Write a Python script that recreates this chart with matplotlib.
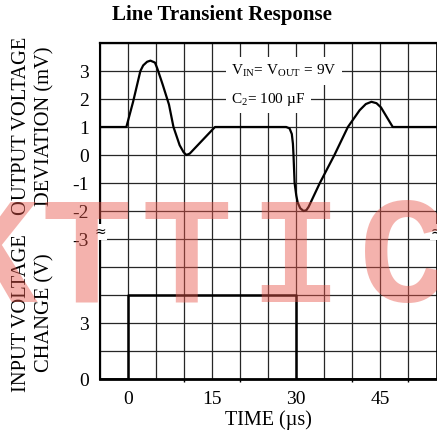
import matplotlib
matplotlib.use("Agg")
import matplotlib.pyplot as plt

### DATOS
### ------------------

# salida (mV) vs tiempo (us)
out_t = [-5, -0.3, 0.9, 2.2, 2.7, 3.4, 4.0, 4.8, 5.2, 6.2, 7.3, 8.1, 9.2, 9.9,
         10.4, 11.0, 15.5, 28.2, 28.8, 29.2, 29.4, 29.5, 29.7, 30.0, 30.25,
         30.7, 31.3, 31.8, 32.2, 34.2, 36.8, 39.2, 41.3, 42.4, 43.4, 44.3,
         45.1, 47.2, 55]
out_mv = [1, 1, 1.9, 3.0, 3.2, 3.33, 3.37, 3.3, 3.1, 2.5, 1.8, 1.0, 0.35, 0.1,
          0.0, 0.05, 1.0, 1.0, 0.95, 0.75, 0.4, 0.0, -1.0, -1.45, -1.7,
          -1.9, -2.0, -1.97, -1.85, -1.0, 0.0, 1.0, 1.6, 1.82, 1.9, 1.85,
          1.7, 1.0, 1.0]

# escalon de entrada (V)
in_t = [-5, 0, 0, 30, 30, 55]
in_v = [0, 0, 4.5, 4.5, 0, 0]

out_ticks = [-3, -2, -1, 0, 1, 2, 3]
in_ticks = [0, 3]
x_ticks = [0, 15, 30, 45]

# cada division de la grilla: 1 mV arriba, 1.5 V abajo
OUT_ZERO = 8
IN_PER_DIV = 1.5

### FIGURA
### ------------------

plt.rcParams['font.family'] = ['Liberation Serif', 'DejaVu Serif']
plt.rcParams['mathtext.fontset'] = 'custom'
plt.rcParams['mathtext.rm'] = 'Liberation Serif'

fig = plt.figure(figsize=(4.37, 4.38), dpi=100)
ax = fig.add_axes([100 / 437, 59 / 438, 336.5 / 437, 336 / 438])

ax.set_xlim(-5, 55)
ax.set_ylim(0, 12)

# grilla
for gx in range(-5, 56, 5):
    ax.axvline(gx, color='0.15', lw=0.9, zorder=1)
for gy in range(0, 13):
    ax.axhline(gy, color='0.15', lw=0.9, zorder=1)

ax.plot(out_t, [OUT_ZERO + v for v in out_mv], color='black', lw=1.6, zorder=4)
ax.plot(in_t, [v / IN_PER_DIV for v in in_v], color='black', lw=1.8, zorder=4)

yt = [v / IN_PER_DIV for v in in_ticks] + [OUT_ZERO + v for v in out_ticks]
yl = [str(v) for v in in_ticks] + [str(v) for v in out_ticks]
ax.set_yticks(yt)
ax.set_yticklabels(yl)
ax.set_xticks(x_ticks)
ax.set_xticklabels([str(v) for v in x_ticks])
ax.set_xticks(range(0, 51, 10), minor=True)
ax.tick_params(axis='both', which='major', length=0, labelsize=14)
ax.tick_params(axis='y', pad=8)
ax.tick_params(axis='x', pad=9)
ax.tick_params(axis='x', which='minor', length=2, width=1, direction='out')

for side, w in [('left', 1.5), ('top', 1.6), ('bottom', 2.0), ('right', 1.2)]:
    ax.spines[side].set_linewidth(w)
    ax.spines[side].set_zorder(5)

# anotacion
box = dict(facecolor='white', edgecolor='none', pad=4)
ax.text(27.8, 11, r'V$_{\mathrm{IN}}$= V$_{\mathrm{OUT}}$ = 9V', ha='center', va='center',
        fontsize=11, bbox=box, zorder=3)
ax.text(25.0, 10, r'C$_{2}$= 100 µF', ha='center', va='center',
        fontsize=11, bbox=box, zorder=3)

# simbolos de corte del eje
for bx in [-5, 55]:
    ax.text(bx, 5.25, '≈', ha='center', va='center', fontsize=10,
            bbox=dict(facecolor='white', edgecolor='none', pad=0.5),
            zorder=6, clip_on=False, family='DejaVu Sans')

fig.text(0.508, 0.966, 'Line Transient Response', ha='center', va='center',
         fontsize=15, fontweight='bold')
fig.text(268 / 437, 1 - 420 / 438, 'TIME (µs)', ha='center', va='center', fontsize=14.5)
fig.text(33 / 437, 1 - 126 / 438, 'OUTPUT VOLTAGE\nDEVIATION (mV)', rotation=90,
         ha='center', va='center', fontsize=14.8, linespacing=1.3)
fig.text(33 / 437, 1 - 313 / 438, 'INPUT VOLTAGE\nCHANGE (V)', rotation=90,
         ha='center', va='center', fontsize=14.8, linespacing=1.3)

# marca de agua
for ch, cx in zip('KTTIC', [-8, 86, 186, 295, 405]):
    fig.text(cx / 437, 1 - 302 / 438, ch, ha='center', va='baseline',
             fontsize=110, family='Liberation Mono', fontweight='bold',
             color='#e8564a', alpha=0.45, zorder=10)

fig.savefig('out.png', dpi=100)
